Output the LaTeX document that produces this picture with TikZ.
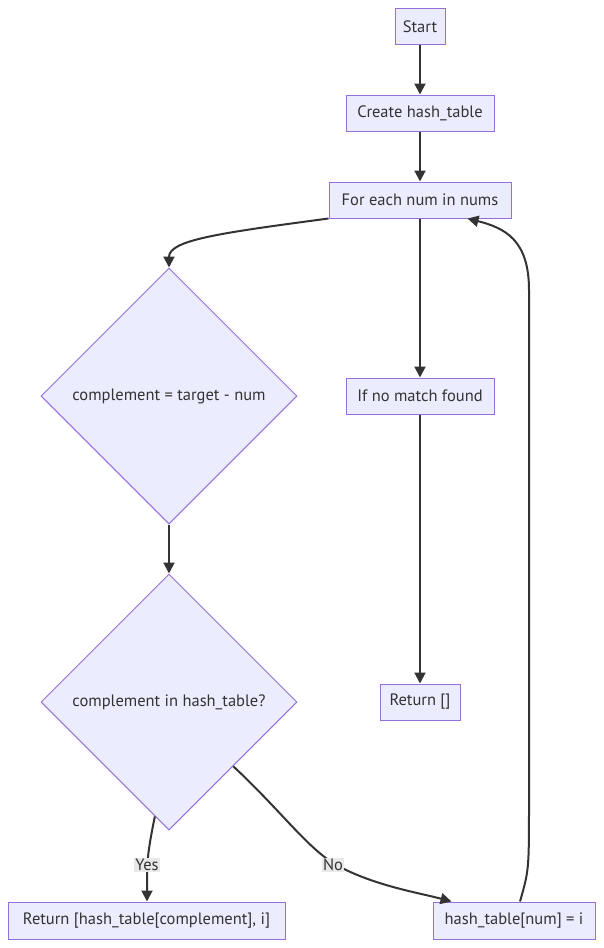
\documentclass[tikz,border=0pt]{standalone}
\usepackage{fontspec}
\setmainfont{PT Sans}
\usetikzlibrary{shapes.geometric,arrows.meta,calc}
\definecolor{nodefill}{HTML}{ECECFF}
\definecolor{nodeborder}{HTML}{9370DB}
\definecolor{edgecol}{HTML}{333333}
\definecolor{labelbg}{HTML}{E8E8E8}
\tikzset{
  box/.style={draw=nodeborder, fill=nodefill, line width=1pt, text=edgecol, inner sep=0pt, minimum height=36pt, font=\fontsize{16.5}{19}\selectfont},
  dia/.style={diamond, draw=nodeborder, fill=nodefill, line width=1pt, text=edgecol, inner sep=0pt, minimum width=256pt, minimum height=256pt, aspect=1, font=\fontsize{16.5}{19}\selectfont},
  conn/.style={draw=edgecol, line width=2pt, -{Triangle[length=11pt,width=11pt]}},
  elabel/.style={fill=labelbg, text=edgecol, inner sep=1.5pt, font=\fontsize{16.5}{19}\selectfont}
}
\begin{document}
\begin{tikzpicture}[x=1pt,y=-1pt]
\useasboundingbox (0,0) rectangle (603,948);
\node[box, minimum width=50pt] (start) at (420,26.5) {Start};
\node[box, minimum width=148pt] (create) at (420,113) {Create hash\_table};
\node[box, minimum width=182pt] (for) at (420,200) {For each num in nums};
\node[dia] (d1) at (169,396) {complement = target - num};
\node[box, minimum width=148pt] (nomatch) at (420,396) {If no match found};
\node[dia] (d2) at (169,702) {complement in hash\_table?};
\node[box, minimum width=80pt] (retempty) at (420,702) {Return []};
\node[box, minimum width=277pt, minimum height=37pt] (ret) at (146.5,920.5) {Return [hash\_table[complement], i]};
\node[box, minimum width=162pt, minimum height=37pt] (hash) at (514,920.5) {hash\_table[num] = i};

\draw[conn] (start) -- (create);
\draw[conn] (create) -- (for);
\draw[conn] (for) -- (nomatch);
\draw[conn] (nomatch) -- (retempty);
\draw[conn] (d1) -- (d2);
\draw[conn] (for.south west) .. controls (220,233) and (169,240) .. (d1.north);
\coordinate (ys) at ($(d2.south)!0.11!(d2.west)$);
\coordinate (ns) at ($(d2.east)!0.5!(d2.south)$);
\draw[conn] (ys) .. controls (149,845) and (147,860) .. (147,875) -- (ret.north -| 147,0);
\node[elabel] (yes) at (147,865) {Yes};
\draw[conn] (ns) .. controls (280,810) and (305,845) .. (333,863) .. controls (370,885) and (420,893) .. ($(hash.north west)+(19,0)$);
\node[elabel] (no) at (333,865) {No};
\draw[conn] ($(hash.north)+(6,0)$) .. controls (529,870) .. (529,800) -- (529,290) .. controls (529,240) and (505,228) .. ($(for.south east)+(-44,0)$);
\end{tikzpicture}
\end{document}
